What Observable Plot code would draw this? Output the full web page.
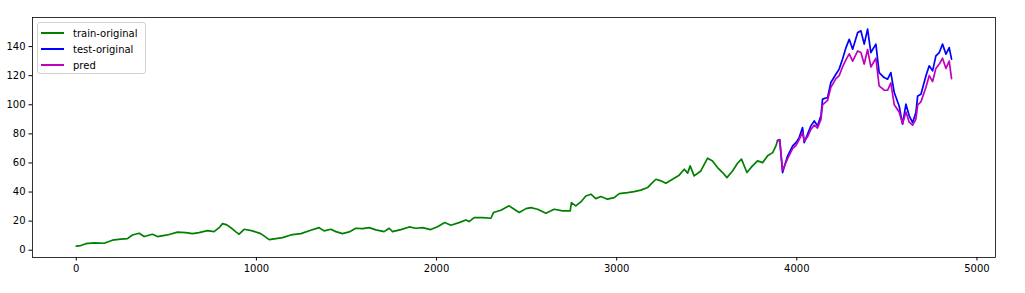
<!DOCTYPE html>
<html>
<head>
<meta charset="utf-8">
<script src="https://cdn.jsdelivr.net/npm/d3@7"></script>
<script src="https://cdn.jsdelivr.net/npm/@observablehq/plot@0.6"></script>
<style>
  html, body { margin: 0; padding: 0; background: #fff; }
  #wrap { position: relative; width: 1025px; height: 293px; font-family: "DejaVu Sans", sans-serif; }
  #legend { position: absolute; left: 37px; top: 22px; width: 107px; height: 50px; border: 1px solid #d0d0d0; border-radius: 3px; background: rgba(255,255,255,0.8); font-size: 10px; color: #000; }
  .row { position: absolute; left: 0; height: 14px; display: flex; align-items: center; }
  .sw { display: inline-block; width: 23px; height: 2px; margin-left: 3px; margin-right: 9px; }
</style>
</head>
<body>
<div id="wrap"></div>
<script>
const seriesNames = ["train-original", "test-original", "pred"];
const seriesColors = ["#008000", "#0000ff", "#bf00bf"];
const xTicks = [0, 1000, 2000, 3000, 4000, 5000];
const yTicks = [0, 20, 40, 60, 80, 100, 120, 140];

const trainPoints = [[0,2.8],[25,3.2],[53,4.5],[99,5.0],[155,4.8],[201,6.9],[247,7.6],[284,8.0],[312,10.5],[349,11.7],[377,9.4],[423,11],[451,9.4],[506,10.5],[562,12.4],[608,12.1],[645,11.4],[682,12.1],[728,13.5],[765,12.8],[793,15.5],[812,18.3],[836,17.4],[858,15.5],[886,12.6],[904,11],[932,14.4],[978,13.3],[1024,11.4],[1071,7.3],[1108,8],[1145,8.7],[1191,10.5],[1247,11.4],[1302,13.7],[1348,15.5],[1376,13.3],[1413,14.4],[1441,12.8],[1478,11.4],[1515,12.6],[1552,15.1],[1589,14.9],[1626,15.5],[1663,14],[1709,12.8],[1737,15.1],[1756,12.8],[1802,14.2],[1848,16],[1885,15.1],[1922,15.5],[1968,14.2],[2005,16.2],[2046,19],[2079,17.2],[2125,19],[2163,20.8],[2181,19.7],[2209,22.4],[2255,22.4],[2302,22],[2316,25.9],[2357,27.5],[2403,30.5],[2431,28.2],[2459,25.9],[2496,28.6],[2524,29.3],[2561,28.2],[2607,25.4],[2653,28.2],[2700,27],[2742,27],[2749,32.7],[2773,30.5],[2801,33.2],[2829,37.3],[2857,38.5],[2884,35.5],[2912,36.9],[2949,35.1],[2986,36.2],[3014,38.9],[3060,39.6],[3097,40.3],[3134,41.3],[3172,43.1],[3190,45.4],[3218,48.8],[3245,47.7],[3273,46.1],[3310,48.8],[3347,51.6],[3375,55.7],[3394,53],[3408,58],[3430,51.1],[3467,54.5],[3505,63.3],[3532,61.4],[3560,56.8],[3588,53.4],[3612,49.9],[3643,54.5],[3671,59.8],[3693,62.6],[3723,53.4],[3754,58],[3782,61.4],[3810,60.2],[3838,64.9],[3866,67.1],[3884,71.7],[3893,75.2]];

const testPoints = [[3893,75.5],[3905,76],[3921,53.4],[3949,64.9],[3977,71.7],[3995,74],[4013,77.4],[4032,84.3],[4041,74],[4060,79.8],[4078,85.5],[4097,88.9],[4115,85.5],[4134,92.4],[4143,103.9],[4171,105],[4189,115.3],[4217,121],[4235,124.5],[4254,131.4],[4273,139.3],[4291,145],[4310,138.2],[4338,149.7],[4356,150.8],[4374,141.7],[4393,152],[4411,135.9],[4439,141.7],[4457,122.1],[4485,118.7],[4504,117.6],[4522,122.1],[4541,108.4],[4568,99.2],[4587,86.7],[4606,100.4],[4624,92.4],[4643,87.8],[4661,94.6],[4671,106.1],[4689,107.3],[4717,119.9],[4735,126.8],[4754,123.3],[4772,133.6],[4791,135.9],[4809,141.7],[4828,134.8],[4846,139.3],[4859,131.4]];

const predPoints = [[3893,75],[3905,76],[3921,55],[3949,63],[3977,70],[3995,72],[4013,76],[4032,81],[4041,75],[4060,78],[4078,83],[4097,86],[4115,84],[4134,90],[4143,100],[4171,103],[4189,112],[4217,118],[4235,120],[4254,126],[4273,131],[4291,135],[4310,130],[4338,137],[4356,136],[4374,128],[4393,138],[4411,126],[4439,132],[4457,113],[4485,110],[4504,110],[4522,115],[4541,100],[4568,95],[4587,87],[4606,95],[4624,88],[4643,86],[4661,90],[4671,100],[4689,102],[4717,112],[4735,120],[4754,116],[4772,125],[4791,128],[4809,132],[4828,125],[4846,130],[4859,118]];

const allSeries = [trainPoints, testPoints, predPoints];

const chart = Plot.plot({
  width: 1025,
  height: 293,
  marginLeft: 32,
  marginRight: 30,
  marginTop: 17,
  marginBottom: 36,
  style: { fontFamily: "DejaVu Sans", fontSize: "10px", color: "#000", background: "#fff" },
  x: { domain: [-243, 5103] },
  y: { domain: [-5, 160] },
  marks: [
    ...allSeries.map((pts, k) => Plot.line(pts, { x: d => d[0], y: d => d[1], stroke: seriesColors[k], strokeWidth: 1.7 })),
    Plot.frame({ stroke: "#000", strokeWidth: 0.8 }),
    Plot.axisX({ ticks: xTicks, tickSize: 3.5, tickPadding: 3.5, label: null, tickFormat: d => String(d), fontSize: 10 }),
    Plot.axisY({ ticks: yTicks, tickSize: 3.5, tickPadding: 3.5, label: null, tickFormat: d => String(d), fontSize: 10 })
  ]
});

const wrap = document.getElementById("wrap");
wrap.appendChild(chart);

const legend = document.createElement("div");
legend.id = "legend";
seriesNames.forEach((name, k) => {
  const row = document.createElement("div");
  row.className = "row";
  row.style.top = (3 + k * 16) + "px";
  const sw = document.createElement("span");
  sw.className = "sw";
  sw.style.backgroundColor = seriesColors[k];
  const t = document.createElement("span");
  t.textContent = name;
  row.appendChild(sw);
  row.appendChild(t);
  legend.appendChild(row);
});
wrap.appendChild(legend);
</script>
</body>
</html>
